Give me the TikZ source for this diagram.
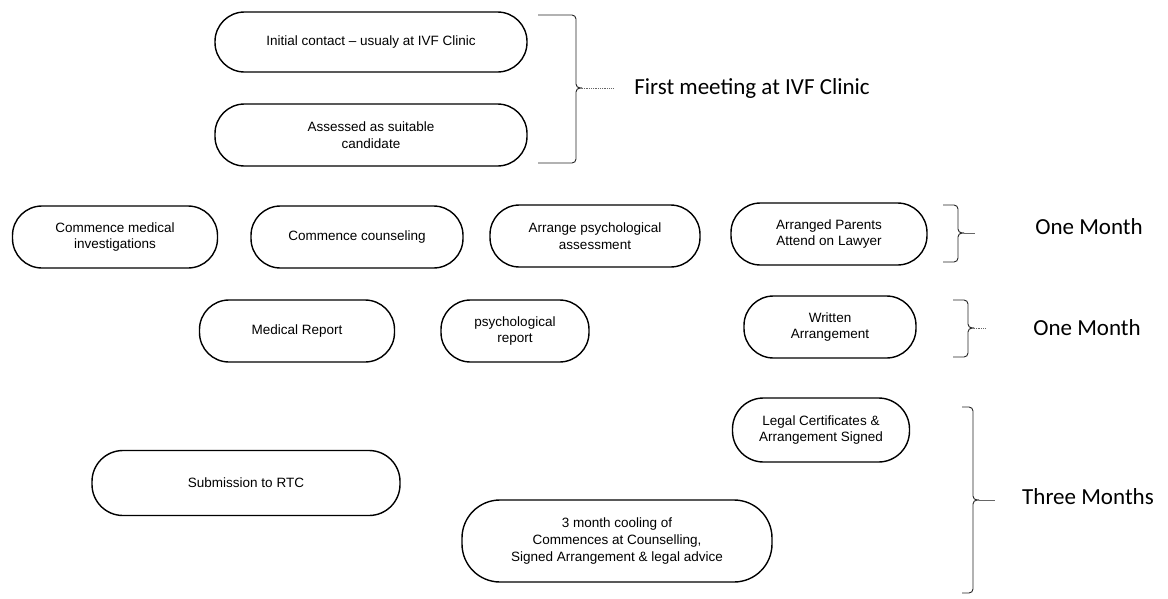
\documentclass[tikz,border=0pt]{standalone}
\usepackage{fontspec}
\setmainfont{Liberation Sans}
\newfontfamily\labelfont{Carlito}
\begin{document}
\begin{tikzpicture}[x=1pt,y=-1pt,
  stage/.style={draw=black, line width=1.4pt, rounded corners=29.5pt, align=center,
    inner sep=0pt, font=\fontsize{13.5}{16.5}\selectfont},
  period/.style={font=\labelfont\fontsize{23}{26}\selectfont, anchor=center},
  bracestyle/.style={draw=black!85, line width=0.9pt, rounded corners=4pt},
  tailstyle/.style={draw=black!60, line width=0.8pt}]
\useasboundingbox[fill=white] (0,0) rectangle (1168,598);

% stage boxes
\node[stage, minimum width=312pt, minimum height=60pt] (init) at (371,42) {Initial contact -- usualy at IVF Clinic};
\node[stage, minimum width=312pt, minimum height=62pt] (assess) at (371,135) {Assessed as suitable\\candidate};
\node[stage, minimum width=205pt, minimum height=62pt] (med) at (115,237) {Commence medical\\investigations};
\node[stage, minimum width=212pt, minimum height=62pt] (couns) at (357,237) {Commence counseling};
\node[stage, minimum width=210pt, minimum height=62pt] (arrpsy) at (595,236) {Arrange psychological\\assessment};
\node[stage, minimum width=196pt, minimum height=62pt] (lawyer) at (829,234) {Arranged Parents\\Attend on Lawyer};
\node[stage, minimum width=195pt, minimum height=62pt] (medrep) at (297,331) {Medical Report};
\node[stage, minimum width=148pt, minimum height=62pt] (psyrep) at (515,331) {psychological\\report};
\node[stage, minimum width=172pt, minimum height=62pt] (written) at (830,327) {Written\\Arrangement};
\node[stage, minimum width=177pt, minimum height=64pt, rounded corners=31pt] (legal) at (821,430) {Legal Certificates \&\\Arrangement Signed};
\node[stage, minimum width=308pt, minimum height=65pt, rounded corners=31pt] (submit) at (246,483) {Submission to RTC};
\node[stage, minimum width=310pt, minimum height=82pt, rounded corners=38pt] (cool) at (617,541) {3 month cooling of\\Commences at Counselling,\\Signed Arrangement \& legal advice};

% period labels
\node[period] (lfirst) at (752,88) {First meeting at IVF Clinic};
\node[period] (lone) at (1089,227) {One Month};
\node[period] (ltwo) at (1087,328) {One Month};
\node[period] (lthree) at (1088,497) {Three Months};

% braces: #1 left end x, #2 spine x, #3 top y, #4 bottom y, #5 tip y
\newcommand\stagebrace[5]{%
  \draw[bracestyle] (#1,#3) -- (#2,#3) -- (#2,#5) -- (#2+6,#5);
  \draw[bracestyle] (#2+6,#5) -- (#2,#5) -- (#2,#4) -- (#1,#4);
  \coordinate (tip) at (#2+6,#5);}

\stagebrace{538}{576}{15}{163}{88}
\draw[tailstyle, densely dotted] (tip) -- ++(32,0);
\stagebrace{943}{958}{205}{262}{233}
\draw[tailstyle] (tip) -- ++(11,0);
\stagebrace{953}{968}{300}{357}{328}
\draw[tailstyle, densely dotted] (tip) -- ++(11,0);
\stagebrace{962}{973}{407}{593}{500}
\draw[tailstyle] (tip) -- ++(16,0);
\end{tikzpicture}
\end{document}
